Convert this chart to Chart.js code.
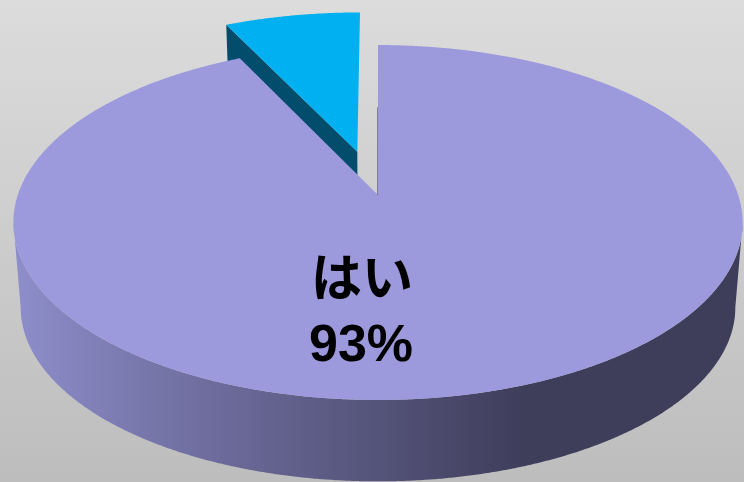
<!DOCTYPE html>
<html lang="ja">
<head>
<meta charset="utf-8">
<title>はい 93%</title>
<script src="https://cdn.jsdelivr.net/npm/chart.js@4/dist/chart.umd.min.js"></script>
<style>
    html, body { margin: 0; padding: 0; background: #cfcfcf; }
    canvas { display: block; }
</style>
</head>
<body>
<canvas id="pieChart" width="744" height="482"></canvas>
<script>
const categories = ['はい', 'いいえ'];
const shares = [92.8, 7.2];
const sliceColors = ['#9c9add', '#00b0f0'];
const sideColors = ['#9c9add', '#024c6c'];
const explode = [0, 48];

// 3D look: the flat pie is projected onto a tilted plane with some perspective
const TILT = { cx: 378, cy: 195, ax: 360.2, ay: 173.2, k: -0.155 };
const BASE = { shrink: 0.98, drop: 85.5 };

function project(u, v, isBase) {
    const w = 1 + TILT.k * v;
    const s = isBase ? BASE.shrink : 1;
    return {
        x: TILT.cx + s * TILT.ax * u / w,
        y: TILT.cy + (isBase ? BASE.drop : 0) + s * TILT.ay * v / w
    };
}

// unit-circle geometry of one arc, taken from the element Chart.js laid out
function arcGeometry(arc) {
    const props = arc.getProps(['startAngle', 'endAngle', 'outerRadius']);
    const mid = (props.startAngle + props.endAngle) / 2;
    const off = (arc.options.offset || 0) / props.outerRadius;
    return {
        start: props.startAngle,
        end: props.endAngle,
        ox: Math.cos(mid) * off,
        oy: Math.sin(mid) * off
    };
}

function rimPoint(geo, angle, isBase) {
    return project(geo.ox + Math.cos(angle), geo.oy + Math.sin(angle), isBase);
}

function drawTop(ctx, geo, color) {
    const apex = project(geo.ox, geo.oy, false);
    ctx.beginPath();
    ctx.moveTo(apex.x, apex.y);
    const steps = Math.ceil((geo.end - geo.start) / 0.005);
    for (let i = 0; i <= steps; i++) {
        const p = rimPoint(geo, geo.start + (geo.end - geo.start) * i / steps, false);
        ctx.lineTo(p.x, p.y);
    }
    ctx.closePath();
    ctx.fillStyle = color;
    ctx.fill();
}

// front wall only: between the two points where the rim turns vertical,
// one path along the top rim and back along the base rim
function drawRimSide(ctx, geo, paint) {
    const edge = Math.asin(-TILT.k);
    const from = Math.max(geo.start, edge);
    const to = Math.min(geo.end, Math.PI - edge);
    const steps = Math.ceil((to - from) / 0.005);
    const angleAt = i => from + (to - from) * i / steps;
    ctx.beginPath();
    for (let i = 0; i <= steps; i++) {
        const p = rimPoint(geo, angleAt(i), false);
        if (i === 0) ctx.moveTo(p.x, p.y); else ctx.lineTo(p.x, p.y);
    }
    for (let i = steps; i >= 0; i--) {
        const p = rimPoint(geo, angleAt(i), true);
        ctx.lineTo(p.x, p.y);
    }
    ctx.closePath();
    ctx.fillStyle = paint;
    ctx.fill();
}

function drawCutFace(ctx, geo, angle, color) {
    const apexTop = project(geo.ox, geo.oy, false);
    const apexBase = project(geo.ox, geo.oy, true);
    const rimTop = rimPoint(geo, angle, false);
    const rimBase = rimPoint(geo, angle, true);
    ctx.beginPath();
    ctx.moveTo(apexTop.x, apexTop.y);
    ctx.lineTo(rimTop.x, rimTop.y);
    ctx.lineTo(rimBase.x, rimBase.y);
    ctx.lineTo(apexBase.x, apexBase.y);
    ctx.closePath();
    ctx.fillStyle = color;
    ctx.fill();
}

const backgroundPlugin = {
    id: 'backgroundPlugin',
    beforeDraw(chart) {
        const { ctx, width, height } = chart;
        const bg = ctx.createLinearGradient(0, 0, 0, height);
        bg.addColorStop(0, '#dcdcdc');
        bg.addColorStop(1, '#bdbdbd');
        ctx.fillStyle = bg;
        ctx.fillRect(0, 0, width, height);
    }
};

const pie3dPlugin = {
    id: 'pie3dPlugin',
    beforeDatasetDraw(chart, args) {
        const { ctx } = chart;
        const arcs = args.meta.data;
        const main = arcGeometry(arcs[0]);
        const small = arcGeometry(arcs[1]);

        ctx.save();
        // exploded slice sits behind the big one
        drawCutFace(ctx, small, small.start, sideColors[1]);
        drawTop(ctx, small, arcs[1].options.backgroundColor);

        const wall = ctx.createLinearGradient(13, 0, 744, 0);
        wall.addColorStop(0, '#8e8ecb');
        wall.addColorStop(0.255, '#6f6e9f');
        wall.addColorStop(0.7, '#3e3d5a');
        wall.addColorStop(1, '#3e3d5a');
        drawRimSide(ctx, main, wall);
        drawTop(ctx, main, arcs[0].options.backgroundColor);

        // thin shaded edge on the cut next to the gap
        const from = project(main.ox, main.oy - 0.55, false);
        const to = project(main.ox, main.oy, false);
        ctx.strokeStyle = 'rgba(90,90,125,0.7)';
        ctx.lineWidth = 1;
        ctx.beginPath();
        ctx.moveTo(from.x - 0.5, from.y);
        ctx.lineTo(to.x - 0.5, to.y);
        ctx.stroke();

        // label of the big slice
        ctx.fillStyle = '#000000';
        ctx.textAlign = 'center';
        ctx.textBaseline = 'alphabetic';
        ctx.font = 'bold 51px "Noto Sans CJK JP", sans-serif';
        ctx.fillText(categories[0], 362, 296);
        ctx.font = 'bold 52px "Liberation Sans", sans-serif';
        ctx.fillText(Math.round(shares[0]) + '%', 361, 361);
        ctx.restore();
        return false; // the arcs are already painted in projection
    }
};

new Chart(document.getElementById('pieChart').getContext('2d'), {
    type: 'pie',
    data: {
        labels: categories,
        datasets: [{
            data: shares,
            backgroundColor: sliceColors,
            offset: explode,
            borderWidth: 0
        }]
    },
    options: {
        responsive: false,
        animation: false,
        radius: 180,
        plugins: {
            legend: { display: false },
            tooltip: { enabled: false }
        }
    },
    plugins: [backgroundPlugin, pie3dPlugin]
});
</script>
</body>
</html>
